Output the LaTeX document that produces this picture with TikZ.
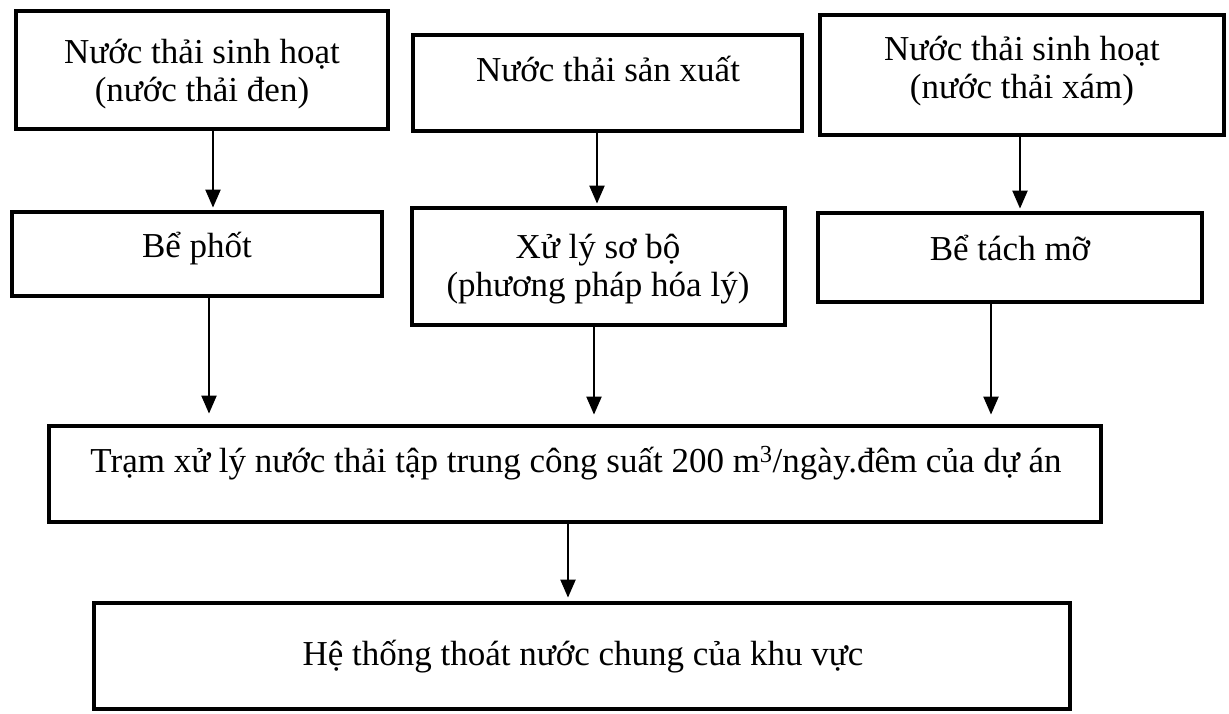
\documentclass[tikz,border=0pt]{standalone}
\usepackage{fontspec}
\setmainfont{Liberation Serif}
\usetikzlibrary{arrows.meta,fit}
\begin{document}
\begin{tikzpicture}[x=1pt,y=-1pt,
  box/.style={draw,line width=4.8pt,inner sep=0pt},
  lbl/.style={font=\fontsize{35}{38}\selectfont,align=center,inner sep=0pt,anchor=base},
  arr/.style={-{Triangle[width=15pt,length=18pt]},line width=2.2pt}]
\useasboundingbox (0,0) rectangle (1229,714);
% boxes
\node[box,fit={(16,11) (388,129)}] (b1) {};
\node[box,fit={(413,35) (802,131)}] (b2) {};
\node[box,fit={(820,15) (1224,135)}] (b3) {};
\node[box,fit={(12,212) (382,296)}] (b4) {};
\node[box,fit={(412,208) (785,325)}] (b5) {};
\node[box,fit={(818,213) (1202,302)}] (b6) {};
\node[box,fit={(49,426) (1101,522)}] (b7) {};
\node[box,fit={(94,603) (1070,709)}] (b8) {};
% texts
\node[lbl] (t1) at (202,102) {Nước thải sinh hoạt\\(nước thải đen)};
\node[lbl] (t2) at (608,82) {Nước thải sản xuất};
\node[lbl] (t3) at (1022,99) {Nước thải sinh hoạt\\(nước thải xám)};
\node[lbl] (t4) at (197,258) {Bể phốt};
\node[lbl] (t5) at (598,296) {Xử lý sơ bộ\\(phương pháp hóa lý)};
\node[lbl] (t6) at (1010,260) {Bể tách mỡ};
\node[lbl] (t7) at (576,472) {Trạm xử lý nước thải tập trung công suất 200 m\textsuperscript{3}/ngày.đêm của dự án};
\node[lbl] (t8) at (583,665) {Hệ thống thoát nước chung của khu vực};
% arrow columns
\coordinate (x1) at (213,0);
\coordinate (x2) at (597,0);
\coordinate (x3) at (1020,0);
\coordinate (x4) at (209,0);
\coordinate (x5) at (594,0);
\coordinate (x6) at (991,0);
\coordinate (x7) at (568,0);
\draw[arr,shorten >=2pt] (b1.south -| x1) -- (b4.north -| x1);
\draw[arr,shorten >=2pt] (b2.south -| x2) -- (b5.north -| x2);
\draw[arr,shorten >=2pt] (b3.south -| x3) -- (b6.north -| x3);
\draw[arr,shorten >=10pt] (b4.south -| x4) -- (b7.north -| x4);
\draw[arr,shorten >=9pt] (b5.south -| x5) -- (b7.north -| x5);
\draw[arr,shorten >=9pt] (b6.south -| x6) -- (b7.north -| x6);
\draw[arr,shorten >=3pt] (b7.south -| x7) -- (b8.north -| x7);
\end{tikzpicture}
\end{document}
